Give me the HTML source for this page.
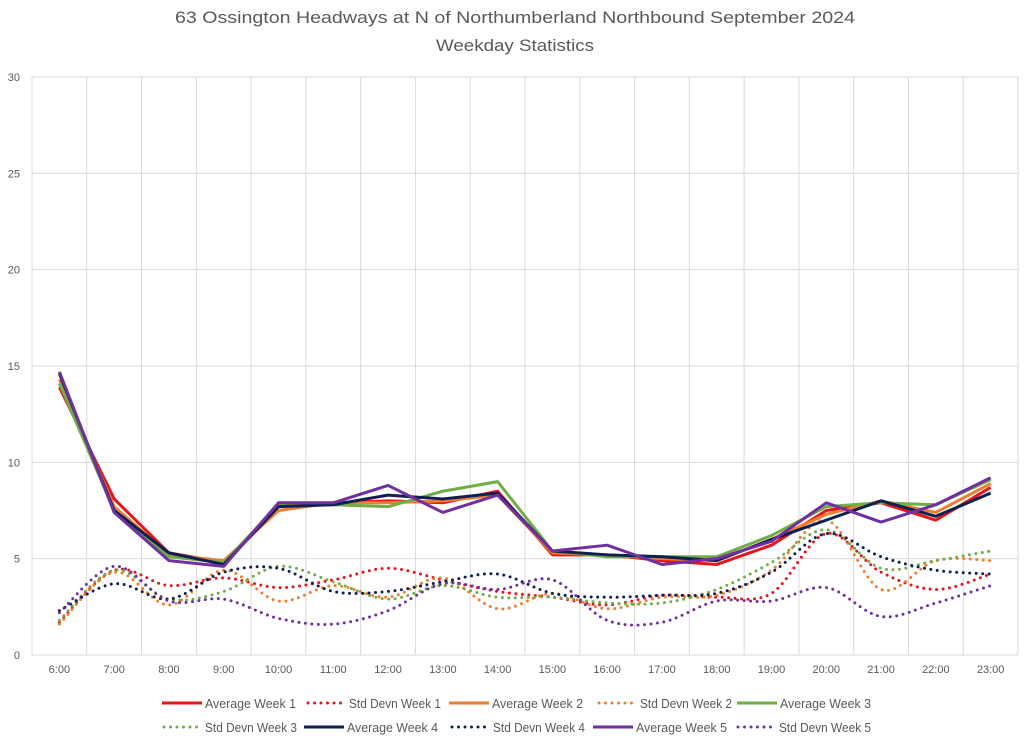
<!DOCTYPE html>
<html><head><meta charset="utf-8"><style>
body{margin:0;background:#fff;}
svg{display:block;font-family:"Liberation Sans",sans-serif;}
</style></head><body>
<svg id="chart" width="1024" height="740" viewBox="0 0 1024 740">
<rect width="1024" height="740" fill="#fff"/>
<text x="515" y="23" text-anchor="middle" font-size="17" fill="#595959" textLength="680" lengthAdjust="spacingAndGlyphs">63 Ossington Headways at N of Northumberland Northbound September 2024</text>
<text x="515" y="51" text-anchor="middle" font-size="17" fill="#595959" textLength="158" lengthAdjust="spacingAndGlyphs">Weekday Statistics</text>
<g id="grid"></g><g id="series"></g><g id="legend"></g>
</svg>
<script>
const categories=["6:00","7:00","8:00","9:00","10:00","11:00","12:00","13:00","14:00","15:00","16:00","17:00","18:00","19:00","20:00","21:00","22:00","23:00"];
const yTicks=[0,5,10,15,20,25,30];
const avgW1=[13.9,8.1,5.3,4.8,7.7,7.9,8.0,7.9,8.5,5.2,5.2,4.9,4.7,5.7,7.5,7.9,7.0,8.7];
const avgW2=[14.3,7.7,5.2,4.9,7.5,7.9,7.9,8.0,8.3,5.3,5.2,5.0,4.9,6.0,7.3,8.0,7.4,8.9];
const avgW3=[14.1,7.5,5.1,4.8,7.8,7.8,7.7,8.5,9.0,5.4,5.1,5.1,5.1,6.2,7.7,7.9,7.8,9.1];
const avgW4=[14.6,7.5,5.3,4.7,7.7,7.8,8.3,8.1,8.4,5.4,5.2,5.1,4.9,6.0,7.0,8.0,7.2,8.4];
const avgW5=[14.7,7.4,4.9,4.6,7.9,7.9,8.8,7.4,8.3,5.4,5.7,4.7,5.0,5.9,7.9,6.9,7.8,9.2];
const sdW1=[1.7,4.4,3.6,4.0,3.5,3.9,4.5,3.9,3.3,3.0,2.6,3.1,3.0,3.2,6.3,4.3,3.4,4.2];
const sdW2=[1.6,4.3,2.6,4.4,2.8,3.6,3.0,4.0,2.4,3.2,2.4,3.0,3.1,4.4,7.0,3.4,4.9,4.9];
const sdW3=[1.8,4.4,2.9,3.3,4.6,3.8,2.9,3.6,3.0,3.0,2.7,2.7,3.4,4.8,6.5,4.5,4.9,5.4];
const sdW4=[2.3,3.7,2.9,4.3,4.5,3.3,3.3,3.8,4.2,3.2,3.0,3.1,3.2,4.3,6.3,5.1,4.4,4.2];
const sdW5=[2.2,4.6,2.8,2.9,1.9,1.6,2.3,3.7,3.4,3.9,1.8,1.7,2.8,2.8,3.5,2.0,2.7,3.6];
const NS="http://www.w3.org/2000/svg";
const L=32,R=1018,T=77,B=655,YMAX=30;
const step=(R-L)/categories.length;
const xs=i=>L+step*(i+0.5);
const ys=v=>B-(v/YMAX)*(B-T);
function mk(tag,attrs,parent){const e=document.createElementNS(NS,tag);for(const k in attrs)e.setAttribute(k,attrs[k]);parent.appendChild(e);return e;}
const grid=document.getElementById('grid');
yTicks.forEach(t=>{
  const ln=mk('line',{x1:L,x2:R,y1:ys(t),y2:ys(t),stroke:'#d9d9d9','stroke-width':1},grid);
  
  
  const tx=mk('text',{x:20,y:ys(t)+4,'text-anchor':'end','font-size':11,fill:'#595959'},grid);
  tx.textContent=t;
  
  
});
for(let i=0;i<=categories.length;i++){
  const ln=mk('line',{x1:L+step*i,x2:L+step*i,y1:T,y2:B,stroke:'#d9d9d9','stroke-width':1},grid);
  
  
}
categories.forEach((c,i)=>{
  const tx=mk('text',{x:xs(i),y:673,'text-anchor':'middle','font-size':11,fill:'#595959'},grid);
  tx.textContent=c;
  
  
});
function smooth(pts){let d=`M${pts[0][0]},${pts[0][1]}`;for(let i=0;i<pts.length-1;i++){const p0=pts[Math.max(0,i-1)],p1=pts[i],p2=pts[i+1],p3=pts[Math.min(pts.length-1,i+2)];const t=6;d+=` C${p1[0]+(p2[0]-p0[0])/t},${p1[1]+(p2[1]-p0[1])/t} ${p2[0]-(p3[0]-p1[0])/t},${p2[1]-(p3[1]-p1[1])/t} ${p2[0]},${p2[1]}`;}return d;}
const seriesList=[
 {n:'Std Devn Week 1',d:sdW1,c:'#e8141a',dot:true},
 {n:'Std Devn Week 2',d:sdW2,c:'#ed7d31',dot:true},
 {n:'Std Devn Week 3',d:sdW3,c:'#70ad47',dot:true},
 {n:'Std Devn Week 4',d:sdW4,c:'#0e1f52',dot:true},
 {n:'Std Devn Week 5',d:sdW5,c:'#7030a0',dot:true},
 {n:'Average Week 1',d:avgW1,c:'#e8141a'},
 {n:'Average Week 2',d:avgW2,c:'#ed7d31'},
 {n:'Average Week 3',d:avgW3,c:'#70ad47'},
 {n:'Average Week 4',d:avgW4,c:'#0e1f52'},
 {n:'Average Week 5',d:avgW5,c:'#7030a0'}];
const sg=document.getElementById('series');
seriesList.forEach(s=>{
  const pts=s.d.map((v,i)=>[xs(i),ys(v)]);
  let p;
  if(s.dot){p=mk('path',{d:smooth(pts),fill:'none',stroke:s.c,'stroke-width':3,'stroke-dasharray':'0 6.5','stroke-linecap':'round'},sg);}
  else{p=mk('polyline',{points:pts.map(q=>q.join(',')).join(' '),fill:'none',stroke:s.c,'stroke-width':3,'stroke-linejoin':'round'},sg);}
  
  
});
const legendItems=[
 ['Average Week 1','#e8141a',false,162,703],['Std Devn Week 1','#e8141a',true,306,703],['Average Week 2','#ed7d31',false,449,703],['Std Devn Week 2','#ed7d31',true,597,703],['Average Week 3','#70ad47',false,737,703],
 ['Std Devn Week 3','#70ad47',true,162,727],['Average Week 4','#0e1f52',false,304,727],['Std Devn Week 4','#0e1f52',true,450,727],['Average Week 5','#7030a0',false,593,727],['Std Devn Week 5','#7030a0',true,736,727]];
const lg=document.getElementById('legend');
legendItems.forEach(([n,c,dot,x,y])=>{
  const g=mk('g',{},lg);
  
  
  if(dot) mk('line',{x1:x+2,x2:x+36,y1:y,y2:y,stroke:c,'stroke-width':3,'stroke-dasharray':'0 6.5','stroke-linecap':'round'},g);
  else mk('line',{x1:x,x2:x+40,y1:y,y2:y,stroke:c,'stroke-width':3},g);
  const t=mk('text',{x:x+43,y:y+5,'font-size':13,fill:'#595959',textLength:dot?92:91,lengthAdjust:'spacingAndGlyphs'},g);
  t.textContent=n;
});
</script>
</body></html>
